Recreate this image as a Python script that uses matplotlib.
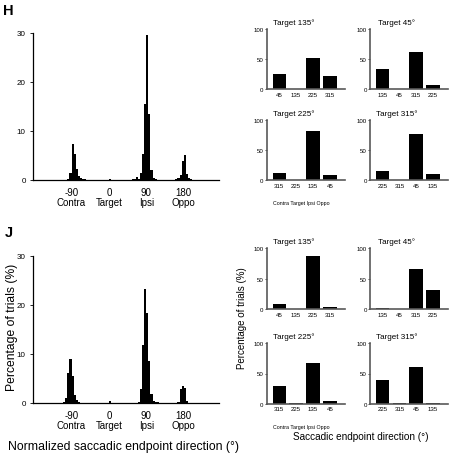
import numpy as np
import matplotlib
matplotlib.use("Agg")
import matplotlib.pyplot as plt

plt.rcParams['font.family'] = ['Liberation Sans', 'DejaVu Sans']

# ------------------------------------------------------
# Data
# ------------------------------------------------------

# Histograms: left edge of each 5 deg bin and percentage of trials
bin_width = 5
h_bin_left = [-100, -95, -90, -85, -80, -75, -70, -65, -60, -55,
              0,
              55, 60, 65, 70, 75, 80, 85, 90, 95, 100, 105, 110,
              160, 165, 170, 175, 180, 185, 190, 195]
h_pct = [0.3, 1.5, 7.3, 5.4, 2.3, 0.9, 0.5, 0.3, 0.2, 0.1,
         0.15,
         0.2, 0.3, 0.6, 0.3, 1.5, 5.3, 15.5, 29.5, 13.5, 2.1, 0.5, 0.2,
         0.2, 0.4, 1.0, 3.8, 5.2, 1.3, 0.5, 0.2]

j_bin_left = [-110, -105, -100, -95, -90, -85, -80, -75,
              0,
              70, 75, 80, 85, 90, 95, 100, 105, 110, 115,
              165, 170, 175, 180, 185]
j_pct = [0.1, 1.0, 6.0, 9.0, 5.5, 1.6, 0.5, 0.2,
         0.3,
         0.2, 2.7, 11.8, 23.2, 18.4, 8.6, 1.8, 0.3, 0.2, 0.1,
         0.2, 2.7, 3.5, 3.0, 0.3]

hist_ticks = [-90, 0, 90, 180]
hist_tick_labels = ["-90\nContra", "0\nTarget", "90\nIpsi", "180\nOppo"]

# Per-target bar charts
target_titles = ["Target 135°", "Target 45°", "Target 225°", "Target 315°"]
target_cats = [["45", "135", "225", "315"],
               ["135", "45", "315", "225"],
               ["315", "225", "135", "45"],
               ["225", "315", "45", "135"]]
h_target_pct = [[25, 0.8, 52, 22],
                [34, 0.8, 62, 6],
                [11, 0.8, 81, 8.5],
                [15.5, 0.8, 77, 10.5]]
j_target_pct = [[9, 0.8, 87, 3.3],
                [1.5, 0.8, 66, 31.5],
                [29.5, 0.8, 67, 4.2],
                [40, 0.8, 60, 0.8]]
cat_names = "Contra Target Ipsi Oppo"

# ------------------------------------------------------
# Layout helpers (pixel boxes in a 449 x 456 figure)
# ------------------------------------------------------
W, H = 449, 456
fig = plt.figure(figsize=(W / 100, H / 100), dpi=100)


def add_ax(l, t, r, b):
    return fig.add_axes([l / W, 1 - b / H, (r - l) / W, (b - t) / H])


def style(ax, color="black", lw=0.9):
    for s in ["top", "right"]:
        ax.spines[s].set_visible(False)
    for s in ["left", "bottom"]:
        ax.spines[s].set_color(color)
        ax.spines[s].set_linewidth(lw)


def draw_hist(ax, bins, pct):
    ax.bar(bins, pct, width=bin_width, align="edge", color="black", linewidth=0)
    ax.set_xlim(-182, 265)
    ax.set_ylim(0, 30)
    ax.set_yticks([0, 10, 20, 30])
    ax.set_xticks(hist_ticks)
    ax.set_xticklabels(hist_tick_labels, fontsize=7, linespacing=1.05)
    ax.tick_params(axis="y", labelsize=5.8, length=2, width=0.6, pad=3.5)
    ax.tick_params(axis="x", length=0, pad=5)
    style(ax)


def draw_targets(axes, values, with_names):
    for i, ax in enumerate(axes):
        pos = np.arange(1, 5)
        ax.bar(pos, values[i], width=0.8, color="black", linewidth=0)
        ax.set_xlim(0.25, 4.9)
        ax.set_ylim(0, 100)
        ax.set_yticks([0, 50, 100])
        ax.set_xticks(pos)
        ax.set_xticklabels(target_cats[i])
        ax.tick_params(axis="both", labelsize=4.4, length=1.2, width=0.5, pad=1.2)
        ax.tick_params(axis="x", length=0, pad=2)
        ax.set_title(target_titles[i], fontsize=5.8, x=0.34, pad=3.5)
        style(ax, color="0.35", lw=1.2)
    if with_names:
        axes[2].text(0.44, -0.33, cat_names, transform=axes[2].transAxes,
                     ha="center", va="top", fontsize=3.8)


# ------------------------------------------------------
# Panel H
# ------------------------------------------------------
ax_h = add_ax(33.3, 34, 219, 181)
draw_hist(ax_h, h_bin_left, h_pct)

h_axes = [add_ax(266.7, 30, 345, 90), add_ax(370, 30, 448, 90),
          add_ax(266.7, 120.7, 345, 181), add_ax(370, 120.7, 448, 181)]
draw_targets(h_axes, h_target_pct, True)

# ------------------------------------------------------
# Panel J
# ------------------------------------------------------
ax_j = add_ax(33.3, 256.7, 219, 403.7)
draw_hist(ax_j, j_bin_left, j_pct)

j_axes = [add_ax(266.7, 249.3, 345, 310.3), add_ax(370, 249.3, 448, 310.3),
          add_ax(266.7, 344.3, 345, 404.7), add_ax(370, 344.3, 448, 404.7)]
draw_targets(j_axes, j_target_pct, True)

# Panel letters and shared labels
fig.text(3 / W, 1 - 15 / H, "H", fontsize=10.5, fontweight="bold", ha="left", va="baseline")
fig.text(5 / W, 1 - 237 / H, "J", fontsize=10.5, fontweight="bold", ha="left", va="baseline")

fig.text(12 / W, 1 - 327 / H, "Percentage of trials (%)", rotation=90,
         ha="center", va="center", fontsize=8.7)
fig.text(242.5 / W, 1 - 318 / H, "Percentage of trials (%)", rotation=90,
         ha="center", va="center", fontsize=7)
fig.text(124 / W, 1 - 447 / H, "Normalized saccadic endpoint direction (°)",
         ha="center", va="center", fontsize=8.8)
fig.text(361 / W, 1 - 437 / H, "Saccadic endpoint direction (°)",
         ha="center", va="center", fontsize=7.2)

plt.savefig("out.png", dpi=100)
